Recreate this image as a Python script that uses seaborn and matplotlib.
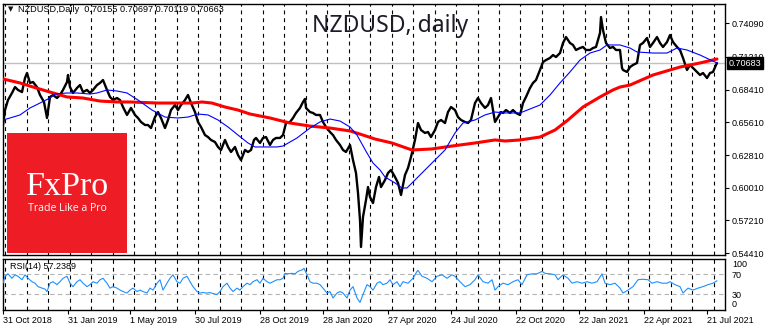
import matplotlib
matplotlib.use("Agg")
import matplotlib.pyplot as plt
import matplotlib.transforms as mtransforms
from matplotlib.patches import Rectangle
import numpy as np
import pandas as pd
import seaborn as sns

# ---------------- data (bar index = trading day from 31 Oct 2018) ----------------
bars = [0, 2, 5, 9, 12, 15, 19, 22, 24, 27, 30, 34, 37, 41, 44, 47, 50, 54, 57, 60,
        64, 65, 67, 70, 74, 77, 80, 84, 87, 90, 94, 97, 100, 104, 107, 110, 114, 117, 120, 124,
        128, 132, 135, 138, 142, 145, 148, 152, 155, 158, 162, 165, 168, 172, 175, 178, 182, 185, 188, 192,
        195, 198, 202, 205, 208, 212, 215, 218, 222, 225, 228, 232, 235, 238, 242, 245, 248, 251, 253, 257,
        260, 263, 267, 270, 273, 277, 280, 283, 287, 290, 293, 297, 300, 302, 303, 307, 310, 313, 317, 320,
        323, 327, 330, 333, 337, 340, 343, 347, 350, 353, 355, 357, 358, 360, 363, 365, 367, 370, 373, 376,
        378, 382, 385, 388, 392, 395, 398, 402, 405, 408, 412, 415, 418, 422, 425, 428, 432, 435, 438, 442,
        445, 448, 452, 455, 458, 462, 465, 468, 472, 475, 478, 482, 485, 488, 492, 495, 498, 500, 503, 507,
        510, 513, 517, 520, 523, 527, 530, 533, 537, 540, 543, 547, 550, 553, 557, 560, 563, 567, 570, 573,
        577, 580, 583, 587, 590, 593, 597, 598, 600, 603, 607, 610, 613, 617, 619, 620, 624, 627, 630, 634,
        637, 640, 644, 647, 650, 654, 657, 660, 664, 667, 670, 674, 677, 680, 684, 687, 690, 694, 697, 700,
        704, 707, 710, 713, 714]
close = [0.6538, 0.6666, 0.6752, 0.6812, 0.6863, 0.6838, 0.6820, 0.6940, 0.6983, 0.6898, 0.6906, 0.6863, 0.6795, 0.6735, 0.6598, 0.6778, 0.6795, 0.6769, 0.6795, 0.6838,
         0.6906, 0.6966, 0.6863, 0.6812, 0.6855, 0.6880, 0.6820, 0.6838, 0.6812, 0.6838, 0.6880, 0.6898, 0.6923, 0.6838, 0.6778, 0.6752, 0.6769, 0.6752, 0.6692, 0.6624,
         0.6684, 0.6624, 0.6598, 0.6564, 0.6538, 0.6538, 0.6512, 0.6606, 0.6649, 0.6598, 0.6512, 0.6581, 0.6666, 0.6709, 0.6666, 0.6709, 0.6752, 0.6795, 0.6726, 0.6649,
         0.6564, 0.6521, 0.6452, 0.6435, 0.6410, 0.6392, 0.6350, 0.6324, 0.6410, 0.6350, 0.6307, 0.6350, 0.6281, 0.6238, 0.6324, 0.6307, 0.6324, 0.6410, 0.6427, 0.6384,
         0.6427, 0.6435, 0.6367, 0.6410, 0.6427, 0.6427, 0.6452, 0.6555, 0.6564, 0.6598, 0.6641, 0.6684, 0.6735, 0.6761, 0.6684, 0.6649, 0.6641, 0.6624, 0.6624, 0.6564,
         0.6521, 0.6478, 0.6452, 0.6410, 0.6367, 0.6324, 0.6307, 0.6367, 0.6238, 0.6127, 0.5956, 0.5725, 0.5494, 0.5751, 0.5896, 0.6007, 0.5922, 0.5870, 0.6007, 0.6093,
         0.6007, 0.6067, 0.6127, 0.6153, 0.6093, 0.6042, 0.5939, 0.6110, 0.6170, 0.6264, 0.6410, 0.6555, 0.6495, 0.6470, 0.6478, 0.6435, 0.6495, 0.6564, 0.6581, 0.6555,
         0.6649, 0.6692, 0.6666, 0.6606, 0.6581, 0.6564, 0.6555, 0.6581, 0.6726, 0.6769, 0.6726, 0.6684, 0.6709, 0.6769, 0.6564, 0.6606, 0.6649, 0.6641, 0.6666, 0.6641,
         0.6666, 0.6641, 0.6624, 0.6726, 0.6778, 0.6855, 0.6898, 0.6923, 0.7009, 0.7077, 0.7094, 0.7112, 0.7137, 0.7120, 0.7154, 0.7240, 0.7291, 0.7240, 0.7223, 0.7180,
         0.7197, 0.7206, 0.7180, 0.7180, 0.7197, 0.7206, 0.7326, 0.7462, 0.7351, 0.7240, 0.7197, 0.7206, 0.7180, 0.7180, 0.7026, 0.7009, 0.6992, 0.7034, 0.7052, 0.7069,
         0.7223, 0.7240, 0.7283, 0.7206, 0.7240, 0.7291, 0.7240, 0.7206, 0.7248, 0.7308, 0.7248, 0.7206, 0.7180, 0.7112, 0.7009, 0.7052, 0.7026, 0.6992, 0.6966, 0.6983,
         0.6940, 0.6983, 0.6992, 0.7052, 0.7068]

ma200_bars = [0, 17, 30, 47, 64, 80, 97, 114, 127, 155, 189, 199, 209, 222, 235, 247, 267, 287, 307, 327,
              347, 360, 372, 389, 409, 429, 449, 472, 492, 502, 517, 537, 552, 565, 580, 597, 610, 617, 627, 650,
              677, 697, 714]
ma200 = [0.6932, 0.6898, 0.6863, 0.6820, 0.6778, 0.6769, 0.6743, 0.6735, 0.6735, 0.6726, 0.6726, 0.6735, 0.6726, 0.6692, 0.6666, 0.6632, 0.6598, 0.6555, 0.6529, 0.6512,
         0.6487, 0.6452, 0.6418, 0.6384, 0.6324, 0.6333, 0.6358, 0.6384, 0.6410, 0.6401, 0.6410, 0.6435, 0.6495, 0.6581, 0.6692, 0.6778, 0.6838, 0.6863, 0.6880, 0.6966,
         0.7034, 0.7069, 0.7103]

ma50_bars = [0, 7, 17, 27, 37, 47, 52, 64, 74, 87, 94, 104, 114, 124, 135, 149, 162, 175, 185, 195,
             205, 215, 225, 235, 245, 252, 260, 274, 280, 294, 307, 317, 327, 337, 347, 354, 364, 370, 377, 382,
             392, 399, 404, 415, 429, 442, 452, 460, 472, 482, 492, 502, 517, 527, 537, 547, 557, 567, 577, 587,
             597, 604, 617, 627, 634, 650, 664, 674, 684, 697, 714]
ma50 = [0.6581, 0.6598, 0.6624, 0.6684, 0.6726, 0.6769, 0.6803, 0.6812, 0.6812, 0.6803, 0.6812, 0.6838, 0.6829, 0.6812, 0.6752, 0.6666, 0.6606, 0.6598, 0.6606, 0.6632,
        0.6624, 0.6581, 0.6521, 0.6452, 0.6384, 0.6350, 0.6350, 0.6350, 0.6358, 0.6427, 0.6512, 0.6564, 0.6589, 0.6572, 0.6521, 0.6452, 0.6298, 0.6213, 0.6153, 0.6093,
        0.6042, 0.5999, 0.5999, 0.6093, 0.6213, 0.6324, 0.6470, 0.6555, 0.6581, 0.6624, 0.6649, 0.6641, 0.6641, 0.6675, 0.6709, 0.6795, 0.6898, 0.6992, 0.7094, 0.7154,
        0.7180, 0.7223, 0.7223, 0.7197, 0.7163, 0.7154, 0.7154, 0.7197, 0.7180, 0.7137, 0.7069]

rsi_bars = [0, 2, 5, 9, 12, 15, 19, 22, 25, 29, 32, 35, 39, 42, 44, 47, 50, 54, 57, 60,
            64, 67, 70, 74, 77, 80, 84, 87, 90, 94, 97, 100, 104, 107, 110, 114, 117, 120, 124, 127,
            130, 134, 137, 140, 144, 147, 150, 154, 157, 160, 164, 167, 170, 174, 177, 180, 184, 187, 190, 194,
            197, 200, 204, 207, 210, 214, 217, 220, 224, 227, 230, 234, 237, 240, 244, 247, 250, 254, 257, 260,
            264, 267, 270, 274, 277, 280, 282, 285, 289, 292, 295, 299, 301, 304, 307, 310, 314, 317, 320, 324,
            327, 330, 334, 337, 340, 344, 347, 350, 354, 357, 360, 364, 367, 370, 374, 377, 380, 384, 387, 390,
            394, 397, 400, 405, 410, 414, 415, 419, 424, 429, 434, 439, 444, 449, 452, 457, 462, 467, 472, 475,
            480, 485, 489, 492, 495, 500, 505, 510, 515, 519, 524, 529, 534, 539, 542, 547, 552, 555, 560, 565,
            569, 574, 579, 584, 589, 594, 599, 602, 607, 612, 617, 620, 625, 630, 635, 640, 645, 649, 654, 659,
            664, 667, 672, 677, 680, 685, 690, 695, 700, 705, 710, 714]
rsi = [52, 66, 71, 62, 69, 66, 59, 69, 62, 55, 52, 45, 42, 40, 35, 52, 55, 49, 55, 62,
       66, 52, 45, 55, 59, 52, 45, 49, 55, 52, 59, 62, 52, 42, 45, 42, 38, 35, 32, 38,
       42, 35, 38, 35, 32, 42, 38, 52, 59, 38, 52, 62, 69, 55, 52, 62, 66, 55, 45, 35,
       32, 33, 32, 33, 31, 29, 35, 45, 52, 42, 35, 42, 38, 45, 52, 49, 55, 59, 52, 62,
       55, 52, 55, 59, 59, 62, 72, 71, 72, 71, 76, 79, 82, 69, 55, 52, 52, 49, 42, 32,
       35, 22, 32, 35, 32, 22, 38, 45, 22, 13, 29, 49, 45, 38, 52, 55, 49, 52, 59, 49,
       55, 45, 55, 52, 62, 76, 78, 66, 62, 55, 66, 69, 62, 69, 66, 55, 45, 49, 59, 69,
       55, 52, 59, 38, 45, 52, 49, 55, 59, 49, 69, 71, 71, 76, 72, 71, 69, 59, 69, 62,
       52, 55, 52, 55, 52, 55, 71, 52, 49, 52, 42, 32, 38, 45, 59, 60, 59, 52, 55, 52,
       52, 55, 49, 45, 32, 42, 38, 42, 45, 49, 52, 57]

date_labels = ["31 Oct 2018", "31 Jan 2019", "1 May 2019", "30 Jul 2019", "28 Oct 2019", "28 Jan 2020",
               "27 Apr 2020", "24 Jul 2020", "22 Oct 2020", "22 Jan 2021", "22 Apr 2021", "21 Jul 2021"]
date_bars = [0, 65, 127, 192, 257, 320, 385, 448, 513, 576, 641, 704]

price_ticks = [0.74090, 0.71210, 0.68410, 0.65610, 0.62810, 0.60010, 0.57210, 0.54410]
rsi_ticks = [100, 70, 30, 0]
last_price = 0.70683
last_rsi = 57.2389
ohlc = [0.70155, 0.70697, 0.70119, 0.70663]
symbol = "NZDUSD,Daily"
title = "NZDUSD, daily"

# ---------------- figure ----------------
sns.set_style("white")
plt.rcParams["font.family"] = ["Liberation Sans", "DejaVu Sans"]

W, H = 770, 330
fig = plt.figure(figsize=(W / 100, H / 100), dpi=100)
fig.patch.set_facecolor("white")

def frac(x0, y0, x1, y1):
    return [x0 / W, 1 - y1 / H, (x1 - x0) / W, (y1 - y0) / H]

ax = fig.add_axes(frac(2.7, 3.5, 725, 254.5))
axr = fig.add_axes(frac(2.7, 258.5, 725, 309.5), sharex=ax)

grid_x = 2.2 + 21.47 * np.arange(34)
for a in (ax, axr):
    for gx in grid_x:
        a.axvline(gx, color="black", lw=0.8, ls=(0, (3.5, 3.5)), zorder=1)
    for s in a.spines.values():
        s.set_color("black")
        s.set_linewidth(1.0)
    a.set_facecolor("white")

# main panel
ax.axhline(last_price, color="#C0C0C0", lw=1.0, zorder=2)
df_p = pd.DataFrame({"bar": bars, "close": close})
sns.lineplot(data=df_p, x="bar", y="close", ax=ax, color="black", lw=1.7,
             estimator=None, sort=False, zorder=3)
df_200 = pd.DataFrame({"bar": ma200_bars, "ma": ma200})
sns.lineplot(data=df_200, x="bar", y="ma", ax=ax, color="#FF0000", lw=2.2,
             estimator=None, sort=False, zorder=4)
df_50 = pd.DataFrame({"bar": ma50_bars, "ma": ma50})
sns.lineplot(data=df_50, x="bar", y="ma", ax=ax, color="#0000FF", lw=0.8,
             estimator=None, sort=False, zorder=5)

ax.set_xlim(-0.3, 722)
ax.set_ylim(0.7608 - 0.000856 * 254.5, 0.7608 - 0.000856 * 3.5)
ax.yaxis.tick_right()
ax.set_yticks(price_ticks)
ax.set_yticklabels([f"{v:.5f}" for v in price_ticks])
ax.tick_params(axis="y", right=True, length=3, width=0.8, pad=2, labelsize=6.5, colors="black")
ax.tick_params(axis="x", bottom=False, labelbottom=False)
ax.set_xlabel("")
ax.set_ylabel("")

ax.annotate(f"{last_price:.5f}", xy=(1.0, last_price),
            xycoords=("axes fraction", "data"), xytext=(2.5, 0), textcoords="offset points",
            ha="left", va="center", fontsize=6.5, color="white", zorder=20,
            bbox=dict(boxstyle="square,pad=0.2", fc="black", ec="black"), annotation_clip=False)

# header texts
fig.text(8 / W, 1 - 9 / H, "\u25BC", fontsize=5, color="#101010", va="center", ha="left",
         family=["DejaVu Sans"])
fig.text(18 / W, 1 - 9 / H, symbol + "  " + " ".join(f"{v:.5f}" for v in ohlc),
         fontsize=6.6, color="black", va="center", ha="left")
fig.text(390 / W, 1 - 31.5 / H, title, fontsize=16.5, color="#1c1c28", ha="center",
         va="baseline", family=["Noto Sans", "DejaVu Sans"])

# logo
fig.add_artist(Rectangle((7.3 / W, 1 - 252.7 / H), 120 / W, 120 / H,
                         transform=fig.transFigure, facecolor="#EE1C25", edgecolor="none", zorder=15))
fig.text(67.5 / W, 1 - 195 / H, "FxPro", fontsize=24.5, color="white", ha="center",
         va="baseline", family=["Liberation Serif", "DejaVu Serif"], zorder=16)
fig.text(67 / W, 1 - 211 / H, "Trade Like a Pro", fontsize=7.6, color="white", ha="center",
         va="baseline", family=["Open Sans", "DejaVu Sans"], zorder=16)

# RSI panel
axr.axhline(70, color="#B4B4B4", lw=0.8, ls=(0, (4, 3)), zorder=2)
axr.axhline(30, color="#B4B4B4", lw=0.8, ls=(0, (4, 3)), zorder=2)
df_r = pd.DataFrame({"bar": rsi_bars, "rsi": rsi})
sns.lineplot(data=df_r, x="bar", y="rsi", ax=axr, color="#1E90FF", lw=0.8,
             estimator=None, sort=False, zorder=4)
axr.set_ylim((308.8 - 309.5) / 0.4925, (308.8 - 258.5) / 0.4925)
axr.yaxis.tick_right()
axr.set_yticks(rsi_ticks)
axr.set_yticklabels([str(v) for v in rsi_ticks])
axr.tick_params(axis="y", right=True, length=0, pad=5, labelsize=6.5, colors="black")
ylabs = axr.get_yticklabels()
ylabs[0].set_va("top")
ylabs[-1].set_va("bottom")
axr.text(7 / 722, 0.84, f"RSI(14) {last_rsi:.4f}", transform=axr.transAxes, fontsize=6.5,
         color="black", ha="left", va="center")

axr.set_xticks(date_bars)
axr.set_xticklabels(date_labels, ha="left")
axr.tick_params(axis="x", bottom=True, length=3, width=0.8, pad=2, labelsize=6.5, colors="black")
axr.set_xlabel("")
axr.set_ylabel("")
axr.set_xlim(-0.3, 722)

fig.savefig("out.png", dpi=100, facecolor="white")
